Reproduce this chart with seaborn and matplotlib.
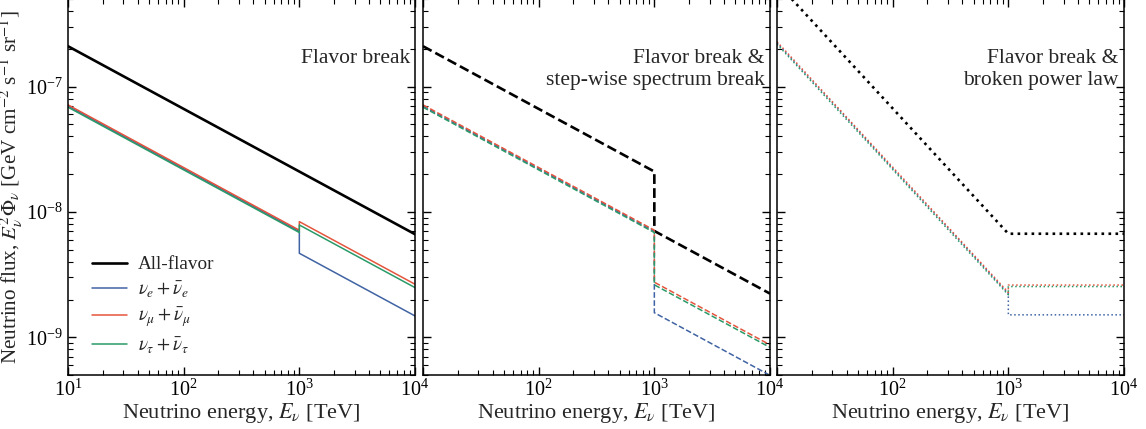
import numpy as np
import pandas as pd
import matplotlib
matplotlib.use("Agg")
import matplotlib.pyplot as plt
import seaborn as sns
from matplotlib.ticker import LogLocator, NullFormatter, LogFormatterSciNotation, FuncFormatter

# ---------------- data ----------------
energy = [10, 1000, 1000, 10000]  # TeV, break at 1 PeV

# Panel 1: flavor break
p1_all = [2.1e-7, 2.1e-8, 2.1e-8, 6.64e-9]
p1_e = [7.0e-8, 7.0e-9, 4.68e-9, 1.48e-9]
p1_mu = [7.15e-8, 7.15e-9, 8.37e-9, 2.65e-9]
p1_tau = [6.85e-8, 6.85e-9, 7.87e-9, 2.49e-9]

# Panel 2: flavor break & step-wise spectrum break
p2_all = [2.1e-7, 2.1e-8, 7.05e-9, 2.23e-9]
p2_e = [7.0e-8, 7.0e-9, 1.57e-9, 4.97e-10]
p2_mu = [7.15e-8, 7.15e-9, 2.75e-9, 8.7e-10]
p2_tau = [6.85e-8, 6.85e-9, 2.62e-9, 8.3e-10]

# Panel 3: flavor break & broken power law
p3_all = [6.7e-7, 6.7e-9, 6.7e-9, 6.7e-9]
p3_e = [2.24e-7, 2.24e-9, 1.51e-9, 1.51e-9]
p3_mu = [2.28e-7, 2.28e-9, 2.61e-9, 2.61e-9]
p3_tau = [2.18e-7, 2.18e-9, 2.54e-9, 2.54e-9]

x_ticks = [10, 100, 1000, 10000]
y_ticks = [1e-9, 1e-8, 1e-7]
panel_titles = ["Flavor break",
                "Flavor break &\nstep-wise spectrum break",
                "Flavor break &\nbroken power law"]
series_labels = ["All-flavor", r"$\nu_e + \bar{\nu}_e$",
                 r"$\nu_\mu + \bar{\nu}_\mu$", r"$\nu_\tau + \bar{\nu}_\tau$"]
series_colors = ["black", "#4063a3", "#e5553d", "#2a9a68"]
panel_styles = ["-", "--", ":"]
xlim = (10, 1e4)
ylim = (5e-10, 5e-7)

# ---------------- style ----------------
sns.set_theme(style="ticks")
plt.rcParams['font.family'] = ['Liberation Serif', 'DejaVu Serif']
plt.rcParams['mathtext.fontset'] = 'stix'
plt.rcParams['font.size'] = 14
plt.rcParams['axes.linewidth'] = 1.1
plt.rcParams['axes.edgecolor'] = 'black'

fig = plt.figure(figsize=(11.46, 4.29), dpi=100)
W = 1146.0
H = 429.0
lefts = [68, 423, 777]
width = 347
bottom_px, top_px = 375, -1
axes = []
for i, l in enumerate(lefts):
    ax = fig.add_axes([l / W, 1 - bottom_px / H, width / W, (bottom_px - top_px) / H])
    axes.append(ax)

panels = [
    [p1_all, p1_e, p1_mu, p1_tau],
    [p2_all, p2_e, p2_mu, p2_tau],
    [p3_all, p3_e, p3_mu, p3_tau],
]

sci = LogFormatterSciNotation()


def skip_first(v, pos):
    if abs(v - 10) < 1e-9:
        return ""
    return sci(v, pos)


for i, (ax, series) in enumerate(zip(axes, panels)):
    for j, vals in enumerate(series):
        sns.lineplot(x=energy, y=vals, ax=ax, sort=False, estimator=None,
                     color=series_colors[j], linestyle=panel_styles[i],
                     lw=1.9 if j == 0 else 1.1, label=series_labels[j],
                     legend=(i == 0))
    ax.set_xscale('log')
    ax.set_yscale('log')
    ax.set_xticks(x_ticks)
    ax.set_yticks(y_ticks)
    ax.xaxis.set_minor_locator(LogLocator(base=10, subs=np.arange(2, 10), numticks=20))
    ax.yaxis.set_minor_locator(LogLocator(base=10, subs=np.arange(2, 10), numticks=20))
    ax.xaxis.set_minor_formatter(NullFormatter())
    ax.yaxis.set_minor_formatter(NullFormatter())
    ax.xaxis.set_major_formatter(FuncFormatter(skip_first) if i > 0 else sci)
    ax.set_xlim(*xlim)
    ax.set_ylim(*ylim)
    ax.tick_params(which='both', direction='in', top=True, right=True, colors='black',
                   labelsize=14.5)
    ax.tick_params(which='major', length=6, width=1.0)
    ax.tick_params(which='minor', length=3.5, width=0.8)
    ax.set_xlabel(r"Neutrino energy, $E_\nu$ [TeV]", fontsize=16, labelpad=0)
    ax.text(0.985, 0.866, panel_titles[i], transform=ax.transAxes, ha='right', va='top',
            fontsize=15.5, linespacing=1.2)
    if i > 0:
        ax.tick_params(axis='y', labelleft=False)
        ax.set_ylabel("")

axes[0].set_ylabel(r"Neutrino flux, $E_\nu^2\Phi_\nu$ [GeV cm$^{-2}$ s$^{-1}$ sr$^{-1}$]",
                   fontsize=15.2, labelpad=1)
axes[0].legend(loc='lower left', bbox_to_anchor=(0.02, 0.005), frameon=False,
               handlelength=1.8, fontsize=13.8, labelspacing=0.33, handletextpad=0.6)

fig.savefig("out.png", dpi=100)
